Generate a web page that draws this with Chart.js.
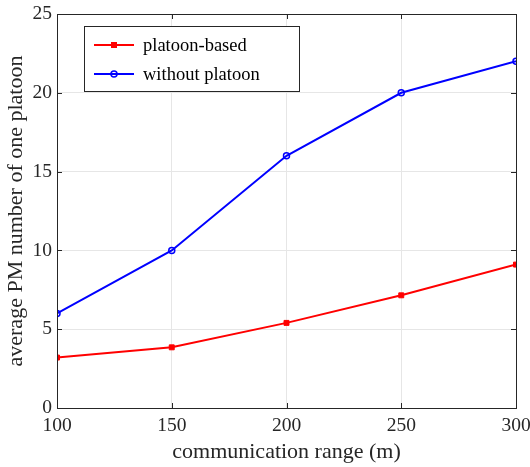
<!DOCTYPE html>
<html>
<head>
<meta charset="utf-8">
<script src="https://cdn.jsdelivr.net/npm/chart.js@4/dist/chart.umd.min.js"></script>
<style>
  html, body { margin: 0; padding: 0; background: #fff; }
  #wrap { width: 530px; height: 467px; }
</style>
</head>
<body>
<div id="wrap"><canvas id="pmChart" width="530" height="467"></canvas></div>
<script>
// communication range (m)
const ranges = [100, 150, 200, 250, 300];
const platoonBased = [3.2, 3.85, 5.4, 7.15, 9.1];
const withoutPlatoon = [6, 10, 16, 20, 22];
const xTicks = [100, 150, 200, 250, 300];
const yTicks = [0, 5, 10, 15, 20, 25];

const FONT = '"Liberation Serif", "Times New Roman", serif';

function toPoints(xs, ys) {
    return xs.map((x, i) => ({ x: x, y: ys[i] }));
}

// box around plot + inward ticks, matlab style
const frame = {
    id: 'frame',
    afterDraw(chart) {
        const ctx = chart.ctx;
        const a = chart.chartArea;
        const xs = chart.scales.x, ys = chart.scales.y;
        ctx.save();
        ctx.strokeStyle = '#262626';
        ctx.lineWidth = 1;
        ctx.strokeRect(a.left + 0.5, a.top + 0.5, a.right - a.left, a.bottom - a.top);
        ctx.beginPath();
        xTicks.forEach(v => {
            const px = Math.round(xs.getPixelForValue(v)) + 0.5;
            ctx.moveTo(px, a.bottom); ctx.lineTo(px, a.bottom - 5);
            ctx.moveTo(px, a.top); ctx.lineTo(px, a.top + 5);
        });
        yTicks.forEach(v => {
            const py = Math.round(ys.getPixelForValue(v)) + 0.5;
            ctx.moveTo(a.left, py); ctx.lineTo(a.left + 5, py);
            ctx.moveTo(a.right, py); ctx.lineTo(a.right - 5, py);
        });
        ctx.stroke();

        // legend box
        const lx = 84, ly = 26, lw = 215, lh = 65;
        ctx.fillStyle = '#fff';
        ctx.fillRect(lx, ly, lw, lh);
        ctx.strokeStyle = '#262626';
        ctx.strokeRect(lx + 0.5, ly + 0.5, lw, lh);
        ctx.font = '18.5px ' + FONT;
        ctx.textBaseline = 'middle';
        chart.data.datasets.forEach((ds, i) => {
            const cy = ly + 19 + i * 29;
            ctx.strokeStyle = ds.borderColor;
            ctx.lineWidth = 2;
            ctx.beginPath();
            ctx.moveTo(lx + 10, cy); ctx.lineTo(lx + 50, cy);
            ctx.stroke();
            ctx.lineWidth = 1.5;
            if (ds.pointStyle === 'rect') {
                ctx.fillStyle = ds.borderColor;
                ctx.fillRect(lx + 27, cy - 3, 6, 6);
            } else {
                ctx.beginPath();
                ctx.arc(lx + 30, cy, 3, 0, Math.PI * 2);
                ctx.stroke();
            }
            ctx.fillStyle = '#000';
            ctx.fillText(ds.label, lx + 59, cy + 1);
        });
        ctx.restore();
    }
};

new Chart(document.getElementById('pmChart'), {
    type: 'line',
    data: {
        datasets: [{
            label: 'platoon-based',
            data: toPoints(ranges, platoonBased),
            borderColor: '#ff0000',
            backgroundColor: '#ff0000',
            borderWidth: 2,
            pointStyle: 'rect',
            pointRadius: 3.5,
            pointBorderWidth: 1
        }, {
            label: 'without platoon',
            data: toPoints(ranges, withoutPlatoon),
            borderColor: '#0000ff',
            backgroundColor: 'rgba(0,0,0,0)',
            borderWidth: 2,
            pointStyle: 'circle',
            pointRadius: 3,
            pointBorderWidth: 1.5
        }]
    },
    options: {
        responsive: false,
        animation: false,
        layout: { padding: { top: 14, right: 14, left: 0, bottom: 0 } },
        plugins: { legend: { display: false }, tooltip: { enabled: false } },
        scales: {
            x: {
                type: 'linear',
                min: 100, max: 300,
                afterBuildTicks: s => { s.ticks = xTicks.map(v => ({ value: v })); },
                afterFit: s => { s.height = 59; s.paddingLeft = 0; s.paddingRight = 0; },
                grid: { color: '#e6e6e6', drawTicks: false },
                border: { display: false },
                ticks: { color: '#262626', padding: 6, maxRotation: 0, font: { family: FONT, size: 19.5 } },
                title: {
                    display: true, text: 'communication range (m)', color: '#262626',
                    padding: { top: 0, bottom: 2 }, font: { family: FONT, size: 22 }
                }
            },
            y: {
                min: 0, max: 25,
                afterBuildTicks: s => { s.ticks = yTicks.map(v => ({ value: v })); },
                afterFit: s => { s.width = 57; s.paddingTop = 0; s.paddingBottom = 0; },
                grid: { color: '#e6e6e6', drawTicks: false },
                border: { display: false },
                ticks: { color: '#262626', padding: 5, font: { family: FONT, size: 19.5 } },
                title: {
                    display: true, text: 'average PM number of one platoon', color: '#262626',
                    padding: { top: 3, bottom: 0 }, font: { family: FONT, size: 22 }
                }
            }
        }
    },
    plugins: [frame]
});
</script>
</body>
</html>
